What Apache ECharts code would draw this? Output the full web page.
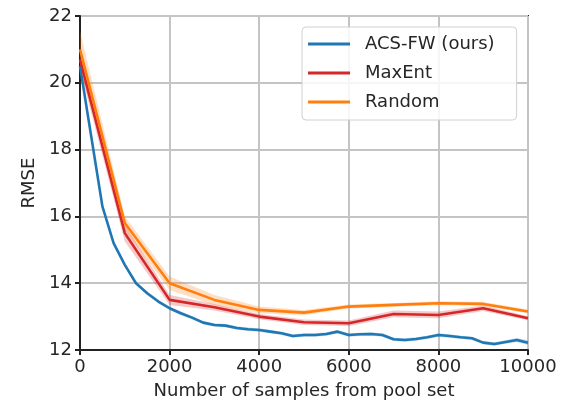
<!DOCTYPE html>
<html><head><meta charset="utf-8">
<script src="https://cdn.jsdelivr.net/npm/echarts@6/dist/echarts.min.js"></script>
<style>html,body{margin:0;padding:0;background:#fff}#c{width:576px;height:406px}</style>
</head><body><div id="c"></div>
<script>
// ---- data ----
const xTicks = [0, 2000, 4000, 6000, 8000, 10000];
const yTicks = [12, 14, 16, 18, 20, 22];

const blueX = [0,250,500,750,1000,1250,1500,1750,2000,2250,2500,2750,3000,3250,3500,3750,4000,4250,4500,4750,5000,5250,5500,5750,6000,6250,6500,6750,7000,7250,7500,7750,8000,8250,8500,8750,9000,9250,9500,9750,10000];
const blueMean = [20.5,18.4,16.3,15.2,14.55,14.0,13.7,13.45,13.25,13.1,12.97,12.82,12.75,12.73,12.66,12.62,12.6,12.55,12.5,12.42,12.45,12.45,12.48,12.55,12.45,12.47,12.48,12.45,12.32,12.3,12.33,12.38,12.45,12.42,12.38,12.35,12.22,12.18,12.24,12.3,12.22];
const blueErr = [0.1,0.08,0.08,0.06,0.06,0.05,0.05,0.05,0.05,0.05,0.05,0.05,0.05,0.05,0.05,0.05,0.05,0.05,0.05,0.05,0.05,0.05,0.05,0.05,0.05,0.05,0.05,0.05,0.05,0.05,0.05,0.05,0.05,0.05,0.05,0.05,0.05,0.05,0.05,0.06,0.07];

const coarseX = [0,1000,2000,3000,4000,5000,6000,7000,8000,9000,10000];
const redMean = [20.7,15.5,13.5,13.28,13.0,12.83,12.8,13.08,13.05,13.25,12.95];
const redErr  = [0.3,0.25,0.15,0.1,0.08,0.08,0.08,0.1,0.1,0.08,0.06];
const orangeMean = [21.0,15.8,14.0,13.5,13.2,13.12,13.3,13.35,13.4,13.38,13.15];
const orangeErr  = [0.55,0.2,0.2,0.15,0.1,0.08,0.06,0.06,0.06,0.06,0.06];

const names = ['ACS-FW (ours)', 'MaxEnt', 'Random'];
const colors = ['#1f77b4', '#d62728', '#ff7f0e'];

function pairs(xs, ys) { return xs.map((x, i) => [x, ys[i]]); }
function bandSeries(id, xs, mean, err, color) {
  const data = xs.map((x, i) => [x, mean[i] - err[i], mean[i] + err[i]]);
  return {
    name: id + '_band', type: 'custom', silent: true, z: 1,
    encode: { x: 0, y: [1, 2] },
    data: data,
    renderItem: function (params, api) {
      if (params.dataIndex !== 0) return null;
      const top = data.map(d => api.coord([d[0], d[2]]));
      const bot = data.map(d => api.coord([d[0], d[1]])).reverse();
      const cs = params.coordSys;
      return {
        type: 'polygon',
        shape: { points: top.concat(bot) },
        style: { fill: color, opacity: 0.25 },
        clipPath: { type: 'rect', shape: { x: cs.x, y: cs.y, width: cs.width, height: cs.height } }
      };
    }
  };
}
function lineSeries(name, xs, ys, color, z) {
  return { name: name, type: 'line', symbol: 'none', data: pairs(xs, ys), z: z,
    lineStyle: { color: color, width: 2.6 }, itemStyle: { color: color } };
}

const font = 'DejaVu Sans';
const series = [
  bandSeries('b', blueX, blueMean, blueErr, colors[0]),
  bandSeries('r', coarseX, redMean, redErr, colors[1]),
  bandSeries('o', coarseX, orangeMean, orangeErr, colors[2]),
  lineSeries(names[0], blueX, blueMean, colors[0], 3),
  lineSeries(names[1], coarseX, redMean, colors[1], 4),
  lineSeries(names[2], coarseX, orangeMean, colors[2], 5)
];

const chart = echarts.init(document.getElementById('c'), null, { renderer: 'canvas' });
chart.setOption({
  animation: false,
  backgroundColor: '#fff',
  grid: { left: 80, top: 16, right: 48, bottom: 56, show: true, borderColor: '#222', borderWidth: 2, backgroundColor: 'transparent' },
  legend: {
    data: names, orient: 'vertical', left: 302, top: 27,
    padding: [7, 22, 8, 6], itemGap: 9, itemWidth: 42, itemHeight: 3, icon: 'rect',
    backgroundColor: 'rgba(255,255,255,0.85)', borderColor: '#d0d0d0', borderWidth: 1, borderRadius: 4,
    textStyle: { fontFamily: font, fontSize: 18, color: '#262626', lineHeight: 20, padding: [0, 0, 0, 10] }
  },
  xAxis: {
    type: 'value', min: xTicks[0], max: xTicks[xTicks.length - 1], interval: 2000,
    name: 'Number of samples from pool set', nameLocation: 'middle', nameGap: 32,
    nameTextStyle: { fontFamily: font, fontSize: 18, color: '#262626' },
    axisLine: { show: true, onZero: false, lineStyle: { color: '#222', width: 2 } },
    axisTick: { show: true, length: 5, lineStyle: { color: '#222', width: 2 } },
    axisLabel: { fontFamily: font, fontSize: 18, color: '#262626', margin: 8, formatter: v => String(v) },
    splitLine: { show: true, lineStyle: { color: '#c4c4c4', width: 2 } }
  },
  yAxis: {
    type: 'value', min: yTicks[0], max: yTicks[yTicks.length - 1], interval: 2,
    name: 'RMSE', nameLocation: 'middle', nameGap: 42, nameRotate: 90,
    nameTextStyle: { fontFamily: font, fontSize: 18, color: '#262626' },
    axisLine: { show: true, onZero: false, lineStyle: { color: '#222', width: 2 } },
    axisTick: { show: true, length: 5, lineStyle: { color: '#222', width: 2 } },
    axisLabel: { fontFamily: font, fontSize: 18, color: '#262626', margin: 8, formatter: v => String(v) },
    splitLine: { show: true, lineStyle: { color: '#c4c4c4', width: 2 } }
  },
  series: series
});
</script></body></html>
